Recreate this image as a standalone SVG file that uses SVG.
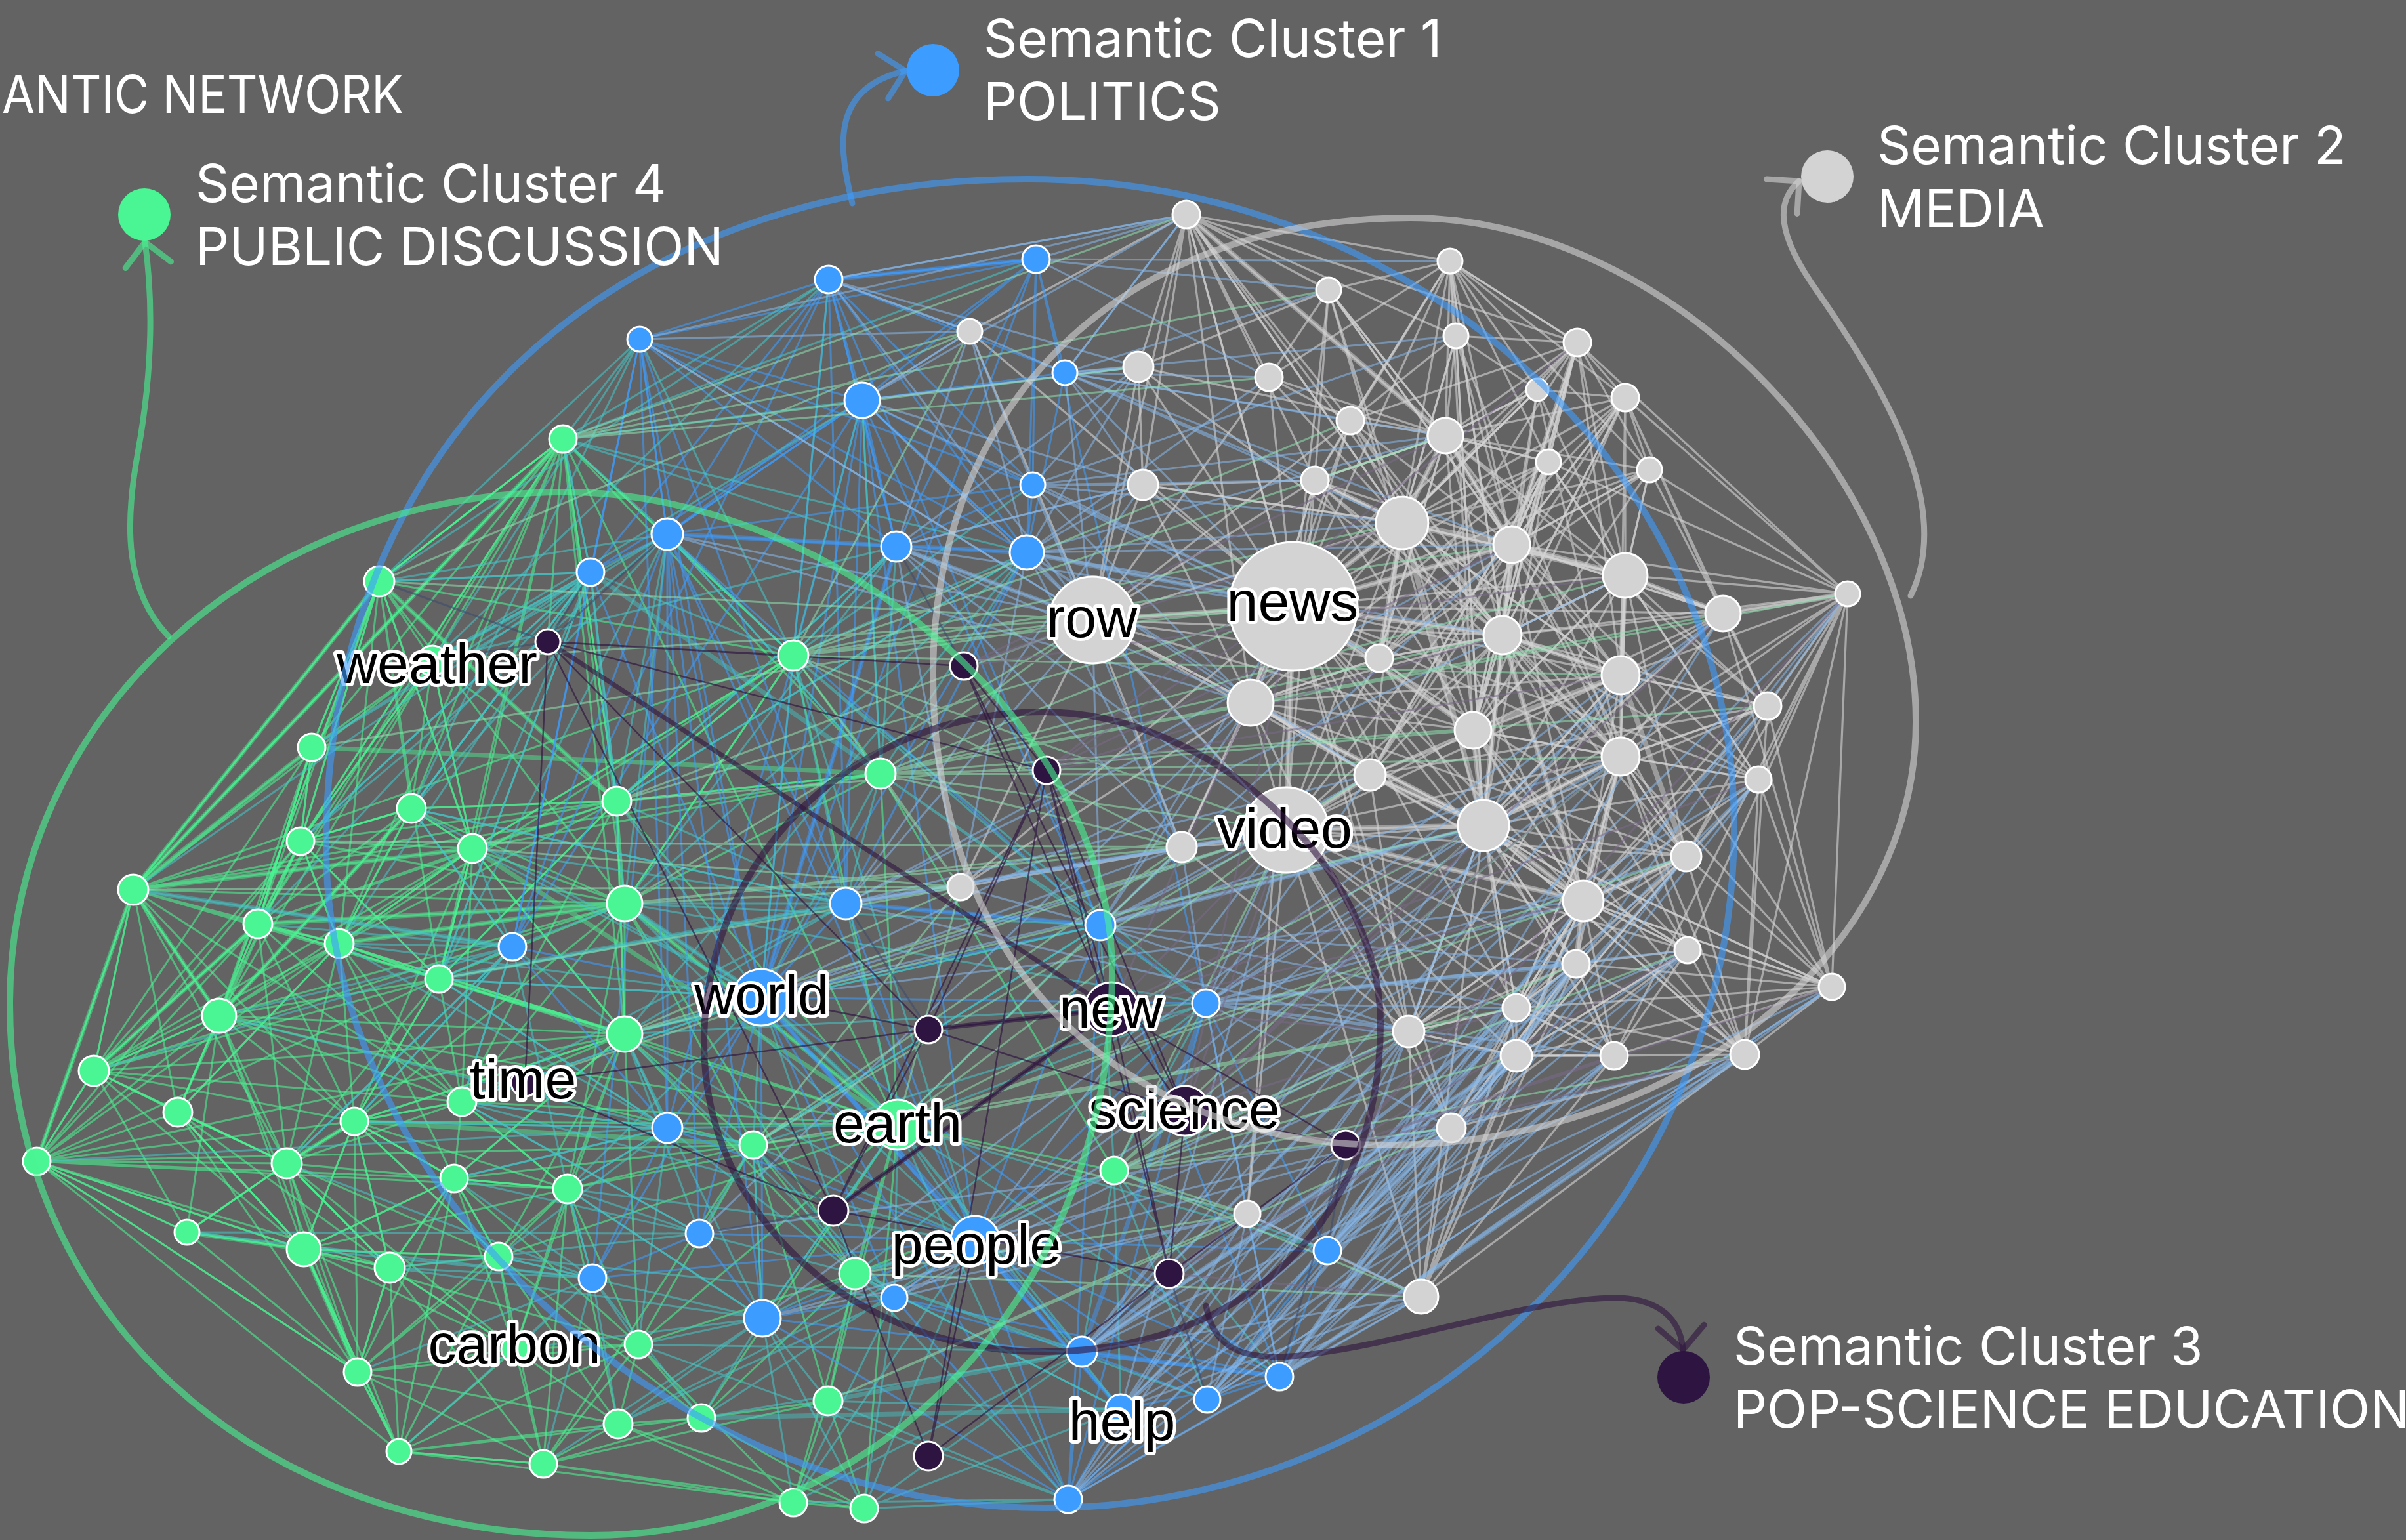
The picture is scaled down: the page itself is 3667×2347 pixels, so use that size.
<svg xmlns="http://www.w3.org/2000/svg" width="3667" height="2347" viewBox="0 0 3667 2347">
<style>
.e{fill:none;stroke-linecap:round;stroke-linejoin:round}
.eg{stroke:#d3d3d3;stroke-opacity:.62;stroke-width:3.2}
.egT{stroke:#d3d3d3;stroke-opacity:.5;stroke-width:8}
.en{stroke:#4af593;stroke-opacity:.58;stroke-width:3}
.enT{stroke:#4af593;stroke-opacity:.45;stroke-width:7}
.eb{stroke:#3d9cff;stroke-opacity:.58;stroke-width:3}
.ebT{stroke:#3d9cff;stroke-opacity:.45;stroke-width:7}
.et{stroke:#44c8c9;stroke-opacity:.56;stroke-width:3}
.etT{stroke:#44c8c9;stroke-opacity:.45;stroke-width:7}
.es{stroke:#88b8e9;stroke-opacity:.56;stroke-width:3}
.esT{stroke:#88b8e9;stroke-opacity:.45;stroke-width:7}
.ev{stroke:#8fe4b3;stroke-opacity:.55;stroke-width:3}
.ep{stroke:#2e1440;stroke-opacity:.65;stroke-width:2.5}
.epT{stroke:#2e1440;stroke-opacity:.6;stroke-width:7}
.eq{stroke:#7a6a8a;stroke-opacity:.55;stroke-width:3}
.ew{stroke:#3a4a70;stroke-opacity:.55;stroke-width:3}
.nd circle{stroke:#fff;stroke-width:3}
.c1{fill:#3d9cff}.c2{fill:#d3d3d3}.c3{fill:#2e1440}.c4{fill:#4af593}
.hull{fill:none;stroke-width:10;stroke-opacity:.6}
.h1{stroke:#3d9cff}.h2{stroke:#d3d3d3}.h3{stroke:#2e1440}.h4{stroke:#4af593}
.arr{fill:none;stroke-width:9;stroke-opacity:.6;stroke-linecap:round}
.lbl{font-family:"Liberation Sans",Arial,sans-serif;font-size:86px;fill:#000;stroke:#fff;stroke-width:10px;paint-order:stroke;stroke-linejoin:round;text-anchor:middle}
.leg{font-family:Inter,"Noto Sans",sans-serif;font-size:80px;fill:#fff}
</style>
<defs>
<marker id="m1" markerUnits="userSpaceOnUse" viewBox="0 0 70 80" markerWidth="70" markerHeight="80" refX="55" refY="40" orient="auto"><path d="M20,5 L55,40 L20,75" fill="none" stroke="#3d9cff" stroke-opacity=".6" stroke-width="9" stroke-linecap="round" stroke-linejoin="round"/></marker>
<marker id="m2" markerUnits="userSpaceOnUse" viewBox="0 0 70 80" markerWidth="70" markerHeight="80" refX="55" refY="40" orient="auto"><path d="M20,5 L55,40 L20,75" fill="none" stroke="#d3d3d3" stroke-opacity=".6" stroke-width="9" stroke-linecap="round" stroke-linejoin="round"/></marker>
<marker id="m3" markerUnits="userSpaceOnUse" viewBox="0 0 70 80" markerWidth="70" markerHeight="80" refX="55" refY="40" orient="auto"><path d="M20,5 L55,40 L20,75" fill="none" stroke="#2e1440" stroke-opacity=".6" stroke-width="9" stroke-linecap="round" stroke-linejoin="round"/></marker>
<marker id="m4" markerUnits="userSpaceOnUse" viewBox="0 0 70 80" markerWidth="70" markerHeight="80" refX="55" refY="40" orient="auto"><path d="M20,5 L55,40 L20,75" fill="none" stroke="#4af593" stroke-opacity=".6" stroke-width="9" stroke-linecap="round" stroke-linejoin="round"/></marker>
</defs>
<rect width="3667" height="2347" fill="#636363"/>
<g id="connectors">
<path class="e eg" d="M2816,905L2477,606 2816,905 2514,716 2816,905 2477,877 2816,905 2626,935 2816,905 2470,1029 2816,905 2694,1076 2816,905 2470,1153 2816,905 2680,1188 2816,905 2570,1305 2816,905 2572,1448 2816,905 2792,1504 2816,905 2659,1607 2816,905 2360,704 2816,905 2404,522 2816,905 2290,968 2816,905 2304,830 2816,905 2413,1373 2816,905 2460,1609 2816,905 2261,1258"/>
<path class="e eg" d="M2792,1504L2694,1076 2792,1504 2680,1188 2792,1504 2570,1305 2792,1504 2572,1448 2792,1504 2460,1609 2792,1504 2659,1607 2792,1504 2470,1153 2792,1504 2470,1029 2792,1504 2413,1373 2792,1504 2402,1469 2792,1504 2311,1609 2792,1504 2311,1536 2792,1504 2261,1258 2792,1504 2626,935"/>
<path class="e eg" d="M1808,327L2025,442 1808,327 2210,398 1808,327 1735,559 1808,327 1934,575 1808,327 1478,505 1808,327 2058,641 1808,327 1742,739 1808,327 2004,732 1808,327 2219,512 1808,327 2203,664 1808,327 2137,797 1808,327 1971,924 1808,327 1665,945 1808,327 1906,1071 1808,327 2404,522"/>
<path class="e eg" d="M2210,398L2025,442 2210,398 2219,512 2210,398 2404,522 2210,398 2343,594 2210,398 2203,664 2210,398 2058,641 2210,398 2360,704 2210,398 2137,797 2210,398 2304,830 2210,398 1934,575 2210,398 2004,732 2210,398 1971,924 2210,398 2290,968 2210,398 2477,606 2210,398 2514,716"/>
<path class="e eg" d="M2404,522L2219,512 2404,522 2343,594 2404,522 2477,606 2404,522 2360,704 2404,522 2514,716 2404,522 2203,664 2404,522 2304,830 2404,522 2477,877 2404,522 2137,797 2404,522 2290,968 2404,522 2470,1029 2404,522 2058,641"/>
<path class="e eg" d="M2477,606L2343,594 2477,606 2360,704 2477,606 2514,716 2477,606 2477,877 2477,606 2626,935 2477,606 2470,1029 2477,606 2304,830 2477,606 2203,664 2477,606 2290,968 2477,606 2694,1076 2477,606 2137,797"/>
<path class="e eg" d="M2659,1607L2460,1609 2659,1607 2572,1448 2659,1607 2570,1305 2659,1607 2311,1609 2659,1607 2413,1373 2659,1607 2311,1536 2659,1607 2402,1469 2659,1607 2680,1188 2659,1607 2694,1076 2659,1607 2261,1258 2659,1607 2470,1153 2659,1607 2166,1976 2659,1607 2212,1719"/>
<path class="e eg" d="M2166,1976L2212,1719 2166,1976 2147,1572 2166,1976 2311,1609 2166,1976 2311,1536 2166,1976 1901,1850 2166,1976 2460,1609 2166,1976 2402,1469 2166,1976 2413,1373 2166,1976 2261,1258 2166,1976 1960,1265"/>
<path class="e eg" d="M1971,924L1808,327 1971,924 2025,442 1971,924 1934,575 1971,924 2058,641 1971,924 2004,732 1971,924 2137,797 1971,924 1742,739 1971,924 1735,559 1971,924 1665,945 1971,924 2102,1003 1971,924 1906,1071 1971,924 2245,1113 1971,924 2088,1181 1971,924 1960,1265 1971,924 2261,1258 1971,924 2290,968 1971,924 2304,830 1971,924 2203,664 1971,924 2360,704 1971,924 2477,877 1971,924 2470,1029 1971,924 2470,1153 1971,924 2413,1373 1971,924 2570,1305 1971,924 2402,1469 1971,924 2311,1536 1971,924 2147,1572 1971,924 2212,1719 1971,924 1901,1850 1971,924 1801,1291 1971,924 1464,1352 1971,924 1478,505 1971,924 2626,935 1971,924 2694,1076 1971,924 2680,1188 1971,924 2514,716 1971,924 2404,522"/>
<path class="e eg" d="M1960,1265L1665,945 1960,1265 1906,1071 1960,1265 2088,1181 1960,1265 1801,1291 1960,1265 2261,1258 1960,1265 2245,1113 1960,1265 2102,1003 1960,1265 2413,1373 1960,1265 2311,1536 1960,1265 2147,1572 1960,1265 2311,1609 1960,1265 2212,1719 1960,1265 2402,1469 1960,1265 2570,1305 1960,1265 2470,1153 1960,1265 2470,1029 1960,1265 2137,797 1960,1265 2004,732 1960,1265 1901,1850 1960,1265 1464,1352 1960,1265 2290,968 1960,1265 2304,830 1960,1265 2572,1448 1960,1265 2460,1609"/>
<path class="e eg" d="M1665,945L1478,505 1665,945 1735,559 1665,945 1742,739 1665,945 1934,575 1665,945 1906,1071 1665,945 1801,1291 1665,945 1464,1352 1665,945 2088,1181 1665,945 2102,1003 1665,945 2004,732 1665,945 2058,641 1665,945 2137,797 1665,945 2245,1113 1665,945 2261,1258 1665,945 2290,968"/>
<path class="e eg" d="M2137,797L2025,442 2137,797 1934,575 2137,797 2219,512 2137,797 2343,594 2137,797 2058,641 2137,797 2360,704 2137,797 2004,732 2137,797 2290,968 2137,797 2102,1003 2137,797 1906,1071 2137,797 2245,1113 2137,797 2088,1181 2137,797 2470,1029 2137,797 2477,877 2137,797 1742,739 2137,797 2413,1373 2137,797 2470,1153"/>
<path class="e eg" d="M2304,830L2203,664 2304,830 2360,704 2304,830 2343,594 2304,830 2219,512 2304,830 2514,716 2304,830 2477,606 2304,830 2290,968 2304,830 2470,1029 2304,830 2245,1113 2304,830 2470,1153 2304,830 2102,1003 2304,830 2004,732 2304,830 2058,641 2304,830 2626,935 2304,830 2261,1258 2304,830 2413,1373 2304,830 2570,1305"/>
<path class="e eg" d="M2477,877L2360,704 2477,877 2514,716 2477,877 2626,935 2477,877 2470,1029 2477,877 2290,968 2477,877 2694,1076 2477,877 2470,1153 2477,877 2203,664 2477,877 2245,1113 2477,877 2680,1188 2477,877 2570,1305 2477,877 2261,1258 2477,877 2343,594"/>
<path class="e eg" d="M2261,1258L2245,1113 2261,1258 2088,1181 2261,1258 2470,1153 2261,1258 2402,1469 2261,1258 2311,1536 2261,1258 2147,1572 2261,1258 2570,1305 2261,1258 2470,1029 2261,1258 2290,968 2261,1258 2102,1003 2261,1258 1906,1071 2261,1258 1801,1291 2261,1258 2311,1609 2261,1258 2460,1609 2261,1258 2572,1448"/>
<path class="e eg" d="M2413,1373L2570,1305 2413,1373 2572,1448 2413,1373 2402,1469 2413,1373 2311,1536 2413,1373 2311,1609 2413,1373 2460,1609 2413,1373 2470,1153 2413,1373 2680,1188 2413,1373 2470,1029 2413,1373 2245,1113 2413,1373 2088,1181 2413,1373 2147,1572 2413,1373 2212,1719"/>
<path class="e eg" d="M1906,1071L1742,739 1906,1071 2004,732 1906,1071 2058,641 1906,1071 2102,1003 1906,1071 2088,1181 1906,1071 1801,1291 1906,1071 2245,1113 1906,1071 2290,968 1906,1071 1464,1352 1906,1071 2147,1572 1906,1071 1665,945"/>
<path class="e eg" d="M2203,664L1934,575 2203,664 2219,512 2203,664 2343,594 2203,664 2058,641 2203,664 2360,704 2203,664 2004,732 2203,664 2025,442 2203,664 2290,968 2203,664 2102,1003 2203,664 2245,1113 2203,664 2470,1029"/>
<path class="e eg" d="M2290,968L2360,704 2290,968 2004,732 2290,968 2102,1003 2290,968 2470,1029 2290,968 2245,1113 2290,968 2470,1153 2290,968 2088,1181 2290,968 2626,935 2290,968 2694,1076 2290,968 2570,1305 2290,968 2413,1373"/>
<path class="e eg" d="M2470,1153L2470,1029 2470,1153 2694,1076 2470,1153 2680,1188 2470,1153 2570,1305 2470,1153 2572,1448 2470,1153 2402,1469 2470,1153 2245,1113 2470,1153 2626,935 2470,1153 2311,1536 2311,1609 2402,1469 2311,1536 2147,1572 2311,1609 2460,1609 2311,1609 2212,1719 2311,1609 2572,1448 2311,1609 2570,1305"/>
<path class="e eg" d="M2025,442L1934,575 2058,641 2219,512 2343,594 2203,664 2360,704 2304,830 2477,877 2470,1029 2626,935 2694,1076 2470,1153 2680,1188 2570,1305 2413,1373 2572,1448 2402,1469 2311,1536 2460,1609 2311,1609 2212,1719 2147,1572 2261,1258 2088,1181 2245,1113 2102,1003 2137,797 2004,732 1742,739 1735,559 2025,442 2203,664 2137,797 2290,968 2245,1113 2470,1153 2261,1258 2413,1373 2311,1536 2147,1572 2088,1181 1906,1071 2102,1003 2290,968 2470,1029 2261,1258 2572,1448 2460,1609 2402,1469 2261,1258 2304,830 2514,716 2477,877 2290,968 2360,704 2404,522 2210,398 2058,641 2004,732 1906,1071 1801,1291 2147,1572 2311,1609 2413,1373 2470,1153 2570,1305 2680,1188 2477,877 2626,935 2514,716 2626,935 2470,1029 2694,1076 2570,1305 2402,1469 2212,1719 2311,1536 2261,1258 2680,1188"/>
<path class="e eg" d="M1742,739L2137,797 2477,877 2245,1113 2626,935 2261,1258 2694,1076 2088,1181 2470,1029 2147,1572 2570,1305 1906,1071 2413,1373 2004,732 2470,1153 2058,641 2290,968 1735,559 2203,664 2102,1003 2514,716 2245,1113 2304,830 2088,1181 2360,704 2261,1258 2219,512 2137,797 2343,594 2290,968 2477,606 2245,1113 2404,522 2304,830 2025,442 2004,732 2203,664 2304,830 2360,704 2477,877 2470,1153 2311,1536 2570,1305 2311,1609 2572,1448 2212,1719 2402,1469 2147,1572 2413,1373 2311,1536 2460,1609 2402,1469"/>
<path class="e eg" d="M2626,935L2304,830 2680,1188 2290,968 2572,1448 2245,1113 2659,1607 2261,1258 2792,1504 2413,1373 2694,1076 2203,664 2514,716 2137,797 2470,1029 1906,1071 2360,704 2088,1181 2477,606 2102,1003 2404,522 2245,1113 2210,398 2290,968 1808,327 2137,797 2343,594 2470,1153 2219,512 2261,1258 2025,442 2304,830"/>
<path class="e egT" d="M1971,924L2137,797M1971,924L2304,830M1971,924L1960,1265M1960,1265L2261,1258M2137,797L2304,830M2304,830L2477,877M2261,1258L2413,1373M1665,945L1971,924M2137,797L2261,1258M1906,1071L2261,1258M2290,968L2470,1029M2477,877L2626,935M2203,664L2137,797M2413,1373L2570,1305M1971,924L2290,968M2004,732L2137,797M2245,1113L2470,1029M2470,1153L2413,1373M2088,1181L2261,1258M2626,935L2816,905M1808,327L2203,664M2137,797L2477,877M2304,830L2261,1258M1971,924L2245,1113M2290,968L2413,1373M2203,664L2304,830M2470,1029L2570,1305M1960,1265L2413,1373M2404,522L2304,830M2137,797L2102,1003M2261,1258L2470,1153M2290,968L2304,830M1906,1071L1971,924M2477,877L2470,1029M2245,1113L2261,1258M2413,1373L2402,1469M1960,1265L2088,1181"/>
<path class="e en" d="M203,1356L578,886 203,1356 475,1139 203,1356 458,1282 203,1356 393,1408 203,1356 517,1438 203,1356 334,1548 203,1356 143,1632 203,1356 271,1695 203,1356 56,1770 203,1356 627,1232 203,1356 659,1007 203,1356 669,1492 203,1356 540,1709 203,1356 952,1377 203,1356 940,1221 203,1356 720,1293 203,1356 1209,999 203,1356 952,1576 203,1356 858,669 203,1356 437,1773 203,1356 704,1679 203,1356 1342,1179"/>
<path class="e en" d="M56,1770L203,1356 56,1770 334,1548 56,1770 143,1632 56,1770 271,1695 56,1770 437,1773 56,1770 285,1878 56,1770 463,1904 56,1770 393,1408 56,1770 458,1282 56,1770 540,1709 56,1770 692,1796 56,1770 545,2091 56,1770 594,1932 56,1770 608,2212 56,1770 517,1438 56,1770 669,1492 56,1770 952,1576 56,1770 865,1812 56,1770 1148,1745"/>
<path class="e en" d="M143,1632L203,1356 143,1632 334,1548 143,1632 393,1408 143,1632 56,1770 143,1632 271,1695 143,1632 458,1282 143,1632 475,1139 143,1632 517,1438 143,1632 540,1709 143,1632 437,1773 143,1632 463,1904 143,1632 669,1492 143,1632 720,1293 143,1632 952,1377 143,1632 704,1679 143,1632 952,1576"/>
<path class="e en" d="M334,1548L203,1356 334,1548 393,1408 334,1548 458,1282 334,1548 475,1139 334,1548 627,1232 334,1548 517,1438 334,1548 669,1492 334,1548 271,1695 334,1548 143,1632 334,1548 437,1773 334,1548 540,1709 334,1548 463,1904 334,1548 285,1878 334,1548 704,1679 334,1548 952,1377 334,1548 952,1576 334,1548 1148,1745 334,1548 659,1007 334,1548 578,886 334,1548 720,1293 334,1548 1368,1714"/>
<path class="e en" d="M858,669L578,886 858,669 659,1007 858,669 475,1139 858,669 627,1232 858,669 458,1282 858,669 940,1221 858,669 720,1293 858,669 952,1377 858,669 1209,999 858,669 1342,1179 858,669 393,1408 858,669 517,1438 858,669 669,1492 858,669 203,1356 858,669 952,1576 858,669 835,978 858,669 1368,1714"/>
<path class="e en" d="M578,886L659,1007 578,886 475,1139 578,886 627,1232 578,886 458,1282 578,886 203,1356 578,886 393,1408 578,886 940,1221 578,886 1209,999 578,886 720,1293 578,886 952,1377 578,886 858,669 578,886 517,1438 578,886 334,1548 578,886 669,1492"/>
<path class="e en" d="M545,2091L285,1878 545,2091 463,1904 545,2091 594,1932 545,2091 437,1773 545,2091 56,1770 545,2091 608,2212 545,2091 785,2056 545,2091 760,1915 545,2091 692,1796 545,2091 942,2170 545,2091 540,1709 545,2091 271,1695 545,2091 334,1548 545,2091 828,2231 545,2091 973,2049 545,2091 865,1812"/>
<path class="e en" d="M608,2212L545,2091 608,2212 828,2231 608,2212 942,2170 608,2212 785,2056 608,2212 594,1932 608,2212 463,1904 608,2212 760,1915 608,2212 1209,2290 608,2212 973,2049 608,2212 1069,2161 608,2212 437,1773 608,2212 692,1796"/>
<path class="e en" d="M828,2231L608,2212 828,2231 942,2170 828,2231 1069,2161 828,2231 973,2049 828,2231 785,2056 828,2231 1209,2290 828,2231 1317,2299 828,2231 1262,2135 828,2231 760,1915 828,2231 865,1812 828,2231 594,1932 828,2231 1148,1745"/>
<path class="e en" d="M952,1377L940,1221 952,1377 720,1293 952,1377 627,1232 952,1377 669,1492 952,1377 517,1438 952,1377 952,1576 952,1377 704,1679 952,1377 1148,1745 952,1377 1368,1714 952,1377 1342,1179 952,1377 1209,999 952,1377 458,1282 952,1377 393,1408 952,1377 865,1812 952,1377 540,1709 952,1377 1303,1941"/>
<path class="e en" d="M952,1576L669,1492 952,1576 704,1679 952,1576 865,1812 952,1576 1148,1745 952,1576 1368,1714 952,1576 692,1796 952,1576 540,1709 952,1576 760,1915 952,1576 973,2049 952,1576 517,1438 952,1576 940,1221 952,1576 720,1293 952,1576 1303,1941 952,1576 785,2056"/>
<path class="e en" d="M1368,1714L1148,1745 1368,1714 1303,1941 1368,1714 1342,1179 1368,1714 1209,999 1368,1714 940,1221 1368,1714 865,1812 1368,1714 704,1679 1368,1714 1262,2135 1368,1714 1209,2290 1368,1714 1317,2299 1368,1714 1698,1784 1368,1714 973,2049 1368,1714 1069,2161 1368,1714 760,1915 1368,1714 669,1492 1368,1714 540,1709"/>
<path class="e en" d="M393,1408L458,1282 393,1408 517,1438 393,1408 475,1139 393,1408 627,1232 393,1408 720,1293 393,1408 669,1492 393,1408 271,1695 393,1408 540,1709 393,1408 437,1773 393,1408 704,1679 393,1408 659,1007 393,1408 940,1221"/>
<path class="e en" d="M517,1438L458,1282 517,1438 627,1232 517,1438 720,1293 517,1438 669,1492 517,1438 540,1709 517,1438 704,1679 517,1438 437,1773 517,1438 692,1796 517,1438 271,1695 517,1438 940,1221 517,1438 952,1576 517,1438 1209,999"/>
<path class="e en" d="M458,1282L475,1139 458,1282 627,1232 458,1282 659,1007 458,1282 720,1293 458,1282 669,1492 458,1282 940,1221 458,1282 578,886 458,1282 858,669 458,1282 271,1695"/>
<path class="e en" d="M463,1904L285,1878 463,1904 437,1773 463,1904 594,1932 463,1904 692,1796 463,1904 540,1709 463,1904 760,1915 463,1904 785,2056 463,1904 271,1695 463,1904 865,1812 463,1904 973,2049 463,1904 608,2212"/>
<path class="e en" d="M437,1773L271,1695 437,1773 540,1709 437,1773 692,1796 437,1773 594,1932 437,1773 285,1878 437,1773 669,1492 437,1773 704,1679 437,1773 865,1812 437,1773 760,1915 437,1773 785,2056"/>
<path class="e en" d="M540,1709L704,1679 540,1709 692,1796 540,1709 669,1492 540,1709 594,1932 540,1709 760,1915 540,1709 865,1812 540,1709 720,1293 540,1709 952,1576"/>
<path class="e en" d="M940,1221L1209,999 940,1221 1342,1179 940,1221 720,1293 940,1221 627,1232 940,1221 952,1576 940,1221 659,1007 940,1221 858,669 940,1221 669,1492 940,1221 704,1679"/>
<path class="e en" d="M720,1293L627,1232 720,1293 659,1007 720,1293 578,886 720,1293 669,1492 720,1293 704,1679 720,1293 1209,999 720,1293 1342,1179 720,1293 952,1576"/>
<path class="e en" d="M692,1796L704,1679 692,1796 865,1812 692,1796 760,1915 692,1796 594,1932 692,1796 785,2056 692,1796 952,1576 692,1796 1148,1745 692,1796 973,2049"/>
<path class="e en" d="M475,1139L458,1282 627,1232 720,1293 669,1492 517,1438 393,1408 458,1282 659,1007 627,1232 940,1221 1209,999 1342,1179 940,1221 669,1492 540,1709 437,1773 285,1878 463,1904 594,1932 760,1915 692,1796 540,1709 704,1679 865,1812 760,1915 785,2056 942,2170 1069,2161 1262,2135 1303,1941 1148,1745 973,2049 785,2056 594,1932 437,1773 271,1695 143,1632 393,1408 475,1139 578,886 858,669 1209,999 720,1293 517,1438 271,1695 463,1904 692,1796 865,1812 1148,1745 1262,2135 1209,2290 1317,2299 1262,2135 1069,2161 942,2170 973,2049 1148,1745 1303,1941 1698,1784 1342,1179 1209,999 952,1377"/>
<path class="e en" d="M285,1878L437,1773 594,1932 545,2091 463,1904 540,1709 692,1796 594,1932 785,2056 865,1812 942,2170 760,1915 1069,2161 973,2049 1209,2290 942,2170 1317,2299 1069,2161 1303,1941 973,2049 865,1812 704,1679 669,1492 720,1293 659,1007 475,1139 393,1408 669,1492 458,1282 517,1438 627,1232 334,1548 271,1695 437,1773 143,1632 285,1878 56,1770 463,1904 271,1695 594,1932 540,1709 760,1915 463,1904"/>
<path class="e enT" d="M203,1356L578,886M203,1356L475,1139M56,1770L203,1356M334,1548L203,1356M143,1632L393,1408M463,1904L545,2091M858,669L203,1356M952,1377L1368,1714M669,1492L952,1576M334,1548L627,1232M540,1709L1148,1745M285,1878L463,1904M393,1408L952,1377M475,1139L1342,1179M578,886L940,1221M720,1293L1368,1714M517,1438L952,1377M437,1773L540,1709M203,1356L720,1293"/>
<path class="e eb" d="M1263,426L1579,395 1263,426 975,517 1263,426 1314,610 1263,426 1623,568 1263,426 1574,739 1263,426 1017,814 1263,426 1366,833 1263,426 1565,842 1263,426 900,872 1263,426 1289,1377 1263,426 1160,1520 1263,426 781,1443 1263,426 1677,1410"/>
<path class="e eb" d="M1579,395L1623,568 1579,395 1314,610 1579,395 1574,739 1579,395 1366,833 1579,395 1565,842 1579,395 975,517 1579,395 1017,814 1579,395 1160,1520 1579,395 1838,1529"/>
<path class="e eb" d="M975,517L1314,610 975,517 1017,814 975,517 900,872 975,517 1366,833 975,517 1565,842 975,517 1574,739 975,517 1289,1377 975,517 781,1443 975,517 1160,1520 975,517 1017,1719"/>
<path class="e eb" d="M1314,610L1623,568 1314,610 1574,739 1314,610 1017,814 1314,610 1366,833 1314,610 1565,842 1314,610 900,872 1314,610 1289,1377 1314,610 1160,1520 1314,610 1677,1410 1314,610 781,1443 1314,610 1486,1890 1314,610 1017,1719"/>
<path class="e eb" d="M1017,814L900,872 1017,814 1366,833 1017,814 1565,842 1017,814 1289,1377 1017,814 781,1443 1017,814 1160,1520 1017,814 1017,1719 1017,814 1066,1880 1017,814 903,1948 1017,814 1162,2009 1017,814 1486,1890 1017,814 1677,1410 1017,814 1574,739"/>
<path class="e eb" d="M1160,1520L1289,1377 1160,1520 781,1443 1160,1520 1017,1719 1160,1520 1066,1880 1160,1520 903,1948 1160,1520 1162,2009 1160,1520 1363,1978 1160,1520 1486,1890 1160,1520 1649,2060 1160,1520 1677,1410 1160,1520 1838,1529 1160,1520 1565,842 1160,1520 1366,833 1160,1520 900,872 1160,1520 1708,2148 1160,1520 1628,2285 1160,1520 1950,2098"/>
<path class="e eb" d="M1486,1890L1363,1978 1486,1890 1162,2009 1486,1890 1649,2060 1486,1890 1708,2148 1486,1890 1840,2133 1486,1890 1950,2098 1486,1890 2023,1906 1486,1890 1628,2285 1486,1890 1838,1529 1486,1890 1677,1410 1486,1890 1289,1377 1486,1890 1066,1880 1486,1890 1017,1719 1486,1890 903,1948"/>
<path class="e eb" d="M1628,2285L1649,2060 1628,2285 1708,2148 1628,2285 1840,2133 1628,2285 1363,1978 1628,2285 1162,2009 1628,2285 1950,2098 1628,2285 2023,1906 1628,2285 1838,1529 1628,2285 1677,1410"/>
<path class="e eb" d="M1950,2098L1649,2060 1950,2098 1840,2133 1950,2098 1708,2148 1950,2098 2023,1906 1950,2098 1838,1529 1950,2098 1677,1410 1950,2098 1363,1978 1950,2098 1162,2009"/>
<path class="e eb" d="M1579,395L1263,426 1366,833 1574,739 1565,842 1289,1377 1677,1410 1838,1529 2023,1906 1840,2133 1649,2060 1363,1978 1162,2009 1066,1880 903,1948 1017,1719 781,1443 900,872 975,517 1017,814 1314,610 1565,842 1623,568"/>
<path class="e ebT" d="M1649,2060L1950,2098M1160,1520L1486,1890M1017,814L1565,842M1263,426L1579,395M1289,1377L1677,1410M1366,833L1160,1520M1649,2060L1838,1529M1708,2148L1486,1890"/>
<path class="e et" d="M900,872L578,886 900,872 659,1007 900,872 475,1139 900,872 627,1232 900,872 458,1282 900,872 940,1221 900,872 720,1293 900,872 952,1377 900,872 203,1356 900,872 393,1408 900,872 517,1438 900,872 669,1492 900,872 858,669 900,872 1209,999"/>
<path class="e et" d="M781,1443L669,1492 781,1443 517,1438 781,1443 393,1408 781,1443 334,1548 781,1443 143,1632 781,1443 203,1356 781,1443 540,1709 781,1443 704,1679 781,1443 952,1576 781,1443 952,1377 781,1443 720,1293 781,1443 627,1232 781,1443 437,1773 781,1443 865,1812"/>
<path class="e et" d="M1017,1719L1148,1745 1017,1719 865,1812 1017,1719 952,1576 1017,1719 704,1679 1017,1719 692,1796 1017,1719 760,1915 1017,1719 973,2049 1017,1719 540,1709 1017,1719 1303,1941 1017,1719 1368,1714 1017,1719 334,1548 1017,1719 56,1770"/>
<path class="e et" d="M903,1948L760,1915 903,1948 785,2056 903,1948 942,2170 903,1948 973,2049 903,1948 865,1812 903,1948 594,1932 903,1948 463,1904 903,1948 545,2091 903,1948 828,2231 903,1948 608,2212 903,1948 1069,2161 903,1948 692,1796"/>
<path class="e et" d="M1162,2009L1262,2135 1162,2009 1069,2161 1162,2009 973,2049 1162,2009 942,2170 1162,2009 1303,1941 1162,2009 1209,2290 1162,2009 1317,2299 1162,2009 1148,1745 1162,2009 865,1812 1162,2009 785,2056 1162,2009 1368,1714 1162,2009 828,2231"/>
<path class="e et" d="M1209,999L1263,426 1209,999 1314,610 1209,999 975,517 1209,999 1017,814 1209,999 1366,833 1209,999 1565,842 1209,999 1574,739 1209,999 1289,1377 1209,999 1160,1520 1209,999 1677,1410 1209,999 1838,1529 1209,999 1486,1890"/>
<path class="e et" d="M1342,1179L1366,833 1342,1179 1565,842 1342,1179 1289,1377 1342,1179 1160,1520 1342,1179 1677,1410 1342,1179 1017,814 1342,1179 1314,610 1342,1179 1838,1529"/>
<path class="e et" d="M1368,1714L1486,1890 1368,1714 1363,1978 1368,1714 1160,1520 1368,1714 1289,1377 1368,1714 1677,1410 1368,1714 1649,2060 1368,1714 1708,2148 1368,1714 1838,1529 1368,1714 1950,2098 1368,1714 2023,1906 1368,1714 1162,2009 1368,1714 1628,2285"/>
<path class="e et" d="M1303,1941L1486,1890 1303,1941 1363,1978 1303,1941 1649,2060 1303,1941 1708,2148 1303,1941 1628,2285 1303,1941 1840,2133 1303,1941 1160,1520 1303,1941 1066,1880"/>
<path class="e et" d="M1698,1784L1838,1529 1698,1784 1677,1410 1698,1784 1486,1890 1698,1784 1649,2060 1698,1784 2023,1906 1698,1784 1950,2098 1698,1784 1840,2133 1698,1784 1708,2148"/>
<path class="e et" d="M858,669L1263,426 858,669 975,517 858,669 1314,610 858,669 1017,814 858,669 900,872 858,669 1579,395 858,669 1366,833 858,669 1565,842"/>
<path class="e et" d="M1317,2299L1628,2285 1317,2299 1649,2060 1317,2299 1708,2148 1317,2299 1363,1978 1317,2299 1486,1890M1209,2290L1628,2285 1209,2290 1363,1978 1209,2290 1486,1890 1209,2290 1649,2060"/>
<path class="e et" d="M952,1377L1289,1377 952,1377 1160,1520 952,1377 1677,1410 952,1377 1565,842 952,1377 1366,833 952,1377 1017,814 952,1377 1838,1529 952,1377 1486,1890"/>
<path class="e et" d="M952,1576L1160,1520 952,1576 1289,1377 952,1576 1017,1719 952,1576 1066,1880 952,1576 1486,1890 952,1576 1363,1978 952,1576 1162,2009 952,1576 1677,1410 952,1576 1838,1529"/>
<path class="e et" d="M940,1221L1017,814 940,1221 900,872 940,1221 1366,833 940,1221 1289,1377 940,1221 1160,1520 940,1221 1565,842 M704,1679L1160,1520 704,1679 1017,1719 704,1679 781,1443 704,1679 1066,1880 704,1679 1486,1890 704,1679 1289,1377"/>
<path class="e et" d="M669,1492L781,1443 669,1492 1160,1520 669,1492 1289,1377 669,1492 1017,1719 669,1492 1017,814 669,1492 900,872 M627,1232L781,1443 627,1232 900,872 627,1232 1017,814 627,1232 975,517 627,1232 1289,1377 627,1232 1160,1520"/>
<path class="e et" d="M659,1007L975,517 659,1007 900,872 659,1007 1017,814 659,1007 1263,426 659,1007 1314,610 659,1007 1366,833 M865,1812L1017,1719 865,1812 1066,1880 865,1812 903,1948 865,1812 1162,2009 865,1812 1160,1520 865,1812 1486,1890"/>
<path class="e et" d="M1148,1745L1160,1520 1148,1745 1066,1880 1148,1745 1162,2009 1148,1745 1486,1890 1148,1745 1017,1719 1148,1745 1363,1978 1148,1745 1677,1410 M578,886L975,517 578,886 900,872 578,886 1017,814 578,886 1263,426"/>
<path class="e et" d="M475,1139L1017,814 458,1282 900,872 627,1232 1289,1377 720,1293 1160,1520 517,1438 1017,1719 669,1492 1160,1520 704,1679 1066,1880 692,1796 1017,1719 540,1709 781,1443 437,1773 903,1948 285,1878 1066,1880 594,1932 1162,2009 760,1915 1363,1978 942,2170 1486,1890 1069,2161 1649,2060 973,2049 1628,2285 1262,2135 1708,2148 1303,1941 1838,1529 1148,1745 1677,1410 952,1576 1565,842 940,1221 1366,833 1209,999 1017,814 1342,1179 1314,610"/>
<path class="e etT" d="M203,1356L781,1443M1160,1520L1368,1714M1486,1890L1303,1941M1649,2060L1262,2135M900,872L1342,1179M1708,2148L1069,2161M952,1377L1160,1520M669,1492L1289,1377"/>
<path class="e es" d="M1623,568L1735,559 1623,568 1808,327 1623,568 1934,575 1623,568 1478,505 1623,568 1742,739 1623,568 1665,945 1623,568 1971,924 1623,568 2004,732 1623,568 2058,641 1623,568 2137,797 1623,568 2025,442"/>
<path class="e es" d="M1574,739L1742,739 1574,739 1665,945 1574,739 1735,559 1574,739 1971,924 1574,739 1906,1071 1574,739 2137,797 1574,739 2004,732 1574,739 1478,505 1574,739 2102,1003 1574,739 1801,1291"/>
<path class="e es" d="M1565,842L1665,945 1565,842 1742,739 1565,842 1971,924 1565,842 1906,1071 1565,842 1801,1291 1565,842 1960,1265 1565,842 2088,1181 1565,842 2137,797 1565,842 1464,1352 1565,842 2290,968 1565,842 1735,559 1565,842 1478,505 1565,842 1934,575"/>
<path class="e es" d="M1366,833L1665,945 1366,833 1478,505 1366,833 1742,739 1366,833 1971,924 1366,833 1906,1071 1366,833 1464,1352 1366,833 1801,1291 1366,833 1960,1265 M1314,610L1478,505 1314,610 1735,559 1314,610 1742,739 1314,610 1665,945 1314,610 1808,327 1314,610 1971,924"/>
<path class="e es" d="M1289,1377L1464,1352 1289,1377 1801,1291 1289,1377 1960,1265 1289,1377 1665,945 1289,1377 1906,1071 1289,1377 2088,1181 1289,1377 2147,1572 M1263,426L1478,505 1263,426 1808,327 1263,426 1735,559 1263,426 1665,945 M975,517L1478,505 975,517 1665,945"/>
<path class="e es" d="M1677,1410L1801,1291 1677,1410 1960,1265 1677,1410 2088,1181 1677,1410 2147,1572 1677,1410 1464,1352 1677,1410 2261,1258 1677,1410 1906,1071 1677,1410 2311,1536 1677,1410 2402,1469 1677,1410 1665,945 1677,1410 1971,924"/>
<path class="e es" d="M1838,1529L1960,1265 1838,1529 2147,1572 1838,1529 2212,1719 1838,1529 2311,1609 1838,1529 2311,1536 1838,1529 2402,1469 1838,1529 2413,1373 1838,1529 2261,1258 1838,1529 1801,1291 1838,1529 1901,1850 1838,1529 2088,1181 1838,1529 2460,1609 1838,1529 2572,1448 1838,1529 2570,1305"/>
<path class="e es" d="M2023,1906L1901,1850 2023,1906 2166,1976 2023,1906 2212,1719 2023,1906 2147,1572 2023,1906 2311,1609 2023,1906 2311,1536 2023,1906 2460,1609 2023,1906 2402,1469 2023,1906 2659,1607 2023,1906 2572,1448 2023,1906 2413,1373 2023,1906 2261,1258"/>
<path class="e es" d="M1950,2098L2166,1976 1950,2098 1901,1850 1950,2098 2212,1719 1950,2098 2311,1609 1950,2098 2460,1609 1950,2098 2659,1607 1950,2098 2402,1469 1950,2098 2572,1448 1950,2098 2792,1504"/>
<path class="e es" d="M1840,2133L2166,1976 1840,2133 1901,1850 1840,2133 2212,1719 1840,2133 2311,1609 1840,2133 2460,1609 1840,2133 2402,1469 1840,2133 2147,1572 1840,2133 2413,1373"/>
<path class="e es" d="M1649,2060L1901,1850 1649,2060 2166,1976 1649,2060 2212,1719 1649,2060 2147,1572 1649,2060 2311,1609 1649,2060 2402,1469 1649,2060 2311,1536 1649,2060 2261,1258 1649,2060 2470,1153 1649,2060 2470,1029"/>
<path class="e es" d="M1708,2148L1901,1850 1708,2148 2166,1976 1708,2148 2147,1572 1708,2148 2212,1719 1708,2148 2402,1469 1708,2148 2311,1536 1708,2148 1960,1265M1628,2285L1901,1850 1628,2285 2147,1572 1628,2285 2212,1719 1628,2285 2166,1976"/>
<path class="e es" d="M1579,395L1808,327 1263,426 1478,505 1314,610 1735,559 1366,833 1742,739 1289,1377 1801,1291 1160,1520 1960,1265 1486,1890 2147,1572 1363,1978 1901,1850 1162,2009 2212,1719 1066,1880 1906,1071 1017,814 1665,945 975,517 1808,327 1623,568 2219,512 1574,739 2203,664 1565,842 2304,830 1677,1410 2470,1153 1838,1529 2626,935 2023,1906 2680,1188 1950,2098 2570,1305 1840,2133 2792,1504"/>
<path class="e es" d="M2816,905L2023,1906M2816,905L1950,2098M2816,905L1649,2060M2792,1504L1840,2133M2792,1504L1649,2060M2694,1076L1628,2285M2680,1188L1708,2148M2680,1188L1486,1890M2659,1607L1708,2148M2659,1607L1486,1890M2572,1448L1649,2060M2460,1609L1628,2285M2572,1448L1363,1978M2626,935L1486,1890M2470,1153L1363,1978M2470,1029L1162,2009M2477,877L1160,1520M2413,1373L1160,1520M2261,1258L1160,1520M2304,830L1289,1377M1579,395L2210,398M1579,395L2025,442M1579,395L1934,575M1623,568L2203,664M1623,568L2304,830"/>
<path class="e esT" d="M1838,1529L2402,1469M1649,2060L2311,1609M1565,842L1971,924M1677,1410L2261,1258M1950,2098L2659,1607M1366,833L1665,945M1289,1377L1960,1265"/>
<path class="e ev" d="M858,669L1808,327M858,669L1478,505M858,669L1735,559M578,886L1478,505M578,886L1665,945M659,1007L1971,924M940,1221L1971,924M940,1221L1665,945M1209,999L1478,505M1209,999L1665,945M1209,999L1971,924M1209,999L2137,797M1342,1179L1665,945M1342,1179L1971,924M1342,1179L1906,1071M1342,1179L2290,968M1342,1179L2477,877M1342,1179L2626,935M952,1377L1464,1352M952,1377L1960,1265M1368,1714L1960,1265M1368,1714L2261,1258M1368,1714L2147,1572M1368,1714L1801,1291M1368,1714L2413,1373M1698,1784L1901,1850M1698,1784L2166,1976M1698,1784L2212,1719M1698,1784L2147,1572M1698,1784L2311,1609M1698,1784L1960,1265M1698,1784L2261,1258M1698,1784L2470,1153M1698,1784L2402,1469M1698,1784L2659,1607M1698,1784L2572,1448M1148,1745L1801,1291M1303,1941L1901,1850M1303,1941L2166,1976M1262,2135L1901,1850M1262,2135L2212,1719M720,1293L1464,1352M669,1492L1464,1352M475,1139L1665,945M203,1356L1464,1352M458,1282L1801,1291M704,1679L1960,1265M1209,999L2304,830M1209,999L2470,1029M1342,1179L2694,1076M1342,1179L2470,1153M1342,1179L2816,905M952,1576L2261,1258M940,1221L2245,1113M1148,1745L2088,1181M1368,1714L2311,1536M1368,1714L2570,1305M1209,999L2203,664M1209,999L2058,641M858,669L2025,442M858,669L1934,575M1209,999L1464,1352M1209,999L1801,1291M1209,999L1960,1265M1342,1179L1464,1352M1342,1179L1801,1291M1342,1179L1960,1265M1342,1179L2088,1181M952,1377L1665,945M952,1377L1801,1291M952,1576L1464,1352M952,1576L1960,1265M1148,1745L1464,1352M1148,1745L2147,1572M1368,1714L1464,1352M1368,1714L1901,1850"/>
<path class="e eq" d="M1694,1538L1971,924M1694,1538L1960,1265M1694,1538L2261,1258M1694,1538L2413,1373M1694,1538L2147,1572M1806,1693L1960,1265M1806,1693L2261,1258M1806,1693L2470,1153M1806,1693L2311,1536M1806,1693L1971,924M2051,1745L2413,1373M2051,1745L2572,1448M2051,1745L2659,1607M2051,1745L2792,1504M2051,1745L2460,1609M1595,1174L1971,924M1595,1174L2290,968M1595,1174L2470,1029M1469,1015L1665,945M1469,1015L2137,797M1469,1015L2477,877M1782,1941L2166,1976M1782,1941L2212,1719M1782,1941L1901,1850M1595,1174L2304,830M1595,1174L2404,522M1469,1015L2203,664M1806,1693L2626,935M1694,1538L2680,1188M2051,1745L2816,905"/>
<path class="e ew" d="M835,978L1017,814M835,978L900,872M835,978L578,886M835,978L659,1007M1469,1015L1366,833M1415,1569L1289,1377M1270,1845L1066,1880M1270,1845L1148,1745M1782,1941L1649,2060M1782,1941L1840,2133M2051,1745L2023,1906M2051,1745L1950,2098"/>
<path class="e ep" d="M835,978L1469,1015M835,978L1595,1174M835,978L1415,1569M835,978L1270,1845M835,978L800,1650M835,978L1209,999M1469,1015L1595,1174M1469,1015L1694,1538M1469,1015L1806,1693M1595,1174L1694,1538M1595,1174L1415,1569M1595,1174L1415,2219M1595,1174L1270,1845M1595,1174L1782,1941M1595,1174L1806,1693M1694,1538L1415,1569M1694,1538L1806,1693M1694,1538L2051,1745M1694,1538L1782,1941M1694,1538L1270,1845M1415,1569L1270,1845M1415,1569L800,1650M1415,1569L1806,1693M1415,1569L1160,1520M1806,1693L2051,1745M1806,1693L1782,1941M1270,1845L1415,2219M1270,1845L1782,1941M1782,1941L1415,2219M2051,1745L1782,1941M800,1650L1270,1845M1415,2219L1486,1890"/>
<path class="e epT" d="M835,978L1694,1538M1415,1569L1694,1538M1270,1845L1694,1538"/>
</g>
<g id="nodes">
<g id="media-1" class="nd"><circle class="c2" cx="1808" cy="327" r="21"/></g>
<g id="media-2" class="nd"><circle class="c2" cx="2025" cy="442" r="19"/></g>
<g id="media-3" class="nd"><circle class="c2" cx="2210" cy="398" r="19"/></g>
<g id="media-4" class="nd"><circle class="c2" cx="1478" cy="505" r="19"/></g>
<g id="media-5" class="nd"><circle class="c2" cx="1735" cy="559" r="23"/></g>
<g id="media-6" class="nd"><circle class="c2" cx="1934" cy="575" r="21"/></g>
<g id="media-7" class="nd"><circle class="c2" cx="2219" cy="512" r="19"/></g>
<g id="media-8" class="nd"><circle class="c2" cx="2404" cy="522" r="21"/></g>
<g id="media-9" class="nd"><circle class="c2" cx="2343" cy="594" r="17"/></g>
<g id="media-10" class="nd"><circle class="c2" cx="2477" cy="606" r="21"/></g>
<g id="media-11" class="nd"><circle class="c2" cx="2058" cy="641" r="21"/></g>
<g id="media-12" class="nd"><circle class="c2" cx="2203" cy="664" r="27"/></g>
<g id="media-13" class="nd"><circle class="c2" cx="2360" cy="704" r="19"/></g>
<g id="media-14" class="nd"><circle class="c2" cx="2514" cy="716" r="19"/></g>
<g id="media-15" class="nd"><circle class="c2" cx="1742" cy="739" r="23"/></g>
<g id="media-16" class="nd"><circle class="c2" cx="2004" cy="732" r="21"/></g>
<g id="media-17" class="nd"><circle class="c2" cx="2137" cy="797" r="40"/></g>
<g id="media-18" class="nd"><circle class="c2" cx="2304" cy="830" r="28"/></g>
<g id="media-19" class="nd"><circle class="c2" cx="2477" cy="877" r="34"/></g>
<g id="media-20" class="nd"><circle class="c2" cx="2816" cy="905" r="19"/></g>
<g id="media-21" class="nd"><circle class="c2" cx="2626" cy="935" r="27"/></g>
<g id="node-row" class="nd"><circle class="c2" cx="1665" cy="945" r="66"/></g>
<g id="node-news" class="nd"><circle class="c2" cx="1971" cy="924" r="98"/></g>
<g id="media-24" class="nd"><circle class="c2" cx="2290" cy="968" r="29"/></g>
<g id="media-25" class="nd"><circle class="c2" cx="2102" cy="1003" r="21"/></g>
<g id="media-26" class="nd"><circle class="c2" cx="2470" cy="1029" r="29"/></g>
<g id="media-27" class="nd"><circle class="c2" cx="1906" cy="1071" r="35"/></g>
<g id="media-28" class="nd"><circle class="c2" cx="2694" cy="1076" r="21"/></g>
<g id="media-29" class="nd"><circle class="c2" cx="2245" cy="1113" r="28"/></g>
<g id="media-30" class="nd"><circle class="c2" cx="2470" cy="1153" r="29"/></g>
<g id="media-31" class="nd"><circle class="c2" cx="2088" cy="1181" r="24"/></g>
<g id="media-32" class="nd"><circle class="c2" cx="2680" cy="1188" r="20"/></g>
<g id="media-33" class="nd"><circle class="c2" cx="2261" cy="1258" r="39"/></g>
<g id="node-video" class="nd"><circle class="c2" cx="1960" cy="1265" r="65"/></g>
<g id="media-35" class="nd"><circle class="c2" cx="1801" cy="1291" r="23"/></g>
<g id="media-36" class="nd"><circle class="c2" cx="2570" cy="1305" r="23"/></g>
<g id="media-37" class="nd"><circle class="c2" cx="1464" cy="1352" r="20"/></g>
<g id="media-38" class="nd"><circle class="c2" cx="2413" cy="1373" r="31"/></g>
<g id="media-39" class="nd"><circle class="c2" cx="2572" cy="1448" r="20"/></g>
<g id="media-40" class="nd"><circle class="c2" cx="2402" cy="1469" r="21"/></g>
<g id="media-41" class="nd"><circle class="c2" cx="2792" cy="1504" r="20"/></g>
<g id="media-42" class="nd"><circle class="c2" cx="2311" cy="1536" r="21"/></g>
<g id="media-43" class="nd"><circle class="c2" cx="2147" cy="1572" r="24"/></g>
<g id="media-44" class="nd"><circle class="c2" cx="2311" cy="1609" r="24"/></g>
<g id="media-45" class="nd"><circle class="c2" cx="2460" cy="1609" r="21"/></g>
<g id="media-46" class="nd"><circle class="c2" cx="2659" cy="1607" r="22"/></g>
<g id="media-47" class="nd"><circle class="c2" cx="2212" cy="1719" r="22"/></g>
<g id="media-48" class="nd"><circle class="c2" cx="1901" cy="1850" r="20"/></g>
<g id="media-49" class="nd"><circle class="c2" cx="2166" cy="1976" r="26"/></g>
<g id="politics-1" class="nd"><circle class="c1" cx="1579" cy="395" r="21"/></g>
<g id="politics-2" class="nd"><circle class="c1" cx="1263" cy="426" r="21"/></g>
<g id="politics-3" class="nd"><circle class="c1" cx="975" cy="517" r="19"/></g>
<g id="politics-4" class="nd"><circle class="c1" cx="1623" cy="568" r="19"/></g>
<g id="politics-5" class="nd"><circle class="c1" cx="1314" cy="610" r="27"/></g>
<g id="politics-6" class="nd"><circle class="c1" cx="1574" cy="739" r="19"/></g>
<g id="politics-7" class="nd"><circle class="c1" cx="1017" cy="814" r="24"/></g>
<g id="politics-8" class="nd"><circle class="c1" cx="1366" cy="833" r="23"/></g>
<g id="politics-9" class="nd"><circle class="c1" cx="1565" cy="842" r="26"/></g>
<g id="politics-10" class="nd"><circle class="c1" cx="900" cy="872" r="21"/></g>
<g id="politics-11" class="nd"><circle class="c1" cx="1289" cy="1377" r="24"/></g>
<g id="politics-12" class="nd"><circle class="c1" cx="781" cy="1443" r="21"/></g>
<g id="politics-13" class="nd"><circle class="c1" cx="1677" cy="1410" r="23"/></g>
<g id="node-world" class="nd"><circle class="c1" cx="1160" cy="1520" r="43"/></g>
<g id="politics-15" class="nd"><circle class="c1" cx="1838" cy="1529" r="21"/></g>
<g id="politics-16" class="nd"><circle class="c1" cx="1017" cy="1719" r="23"/></g>
<g id="politics-17" class="nd"><circle class="c1" cx="1066" cy="1880" r="21"/></g>
<g id="node-people" class="nd"><circle class="c1" cx="1486" cy="1890" r="37"/></g>
<g id="politics-19" class="nd"><circle class="c1" cx="2023" cy="1906" r="21"/></g>
<g id="politics-20" class="nd"><circle class="c1" cx="903" cy="1948" r="21"/></g>
<g id="politics-21" class="nd"><circle class="c1" cx="1363" cy="1978" r="20"/></g>
<g id="politics-22" class="nd"><circle class="c1" cx="1162" cy="2009" r="28"/></g>
<g id="politics-23" class="nd"><circle class="c1" cx="1649" cy="2060" r="23"/></g>
<g id="politics-24" class="nd"><circle class="c1" cx="1950" cy="2098" r="21"/></g>
<g id="politics-25" class="nd"><circle class="c1" cx="1840" cy="2133" r="20"/></g>
<g id="node-help" class="nd"><circle class="c1" cx="1708" cy="2148" r="23"/></g>
<g id="politics-27" class="nd"><circle class="c1" cx="1628" cy="2285" r="21"/></g>
<g id="popsci-1" class="nd"><circle class="c3" cx="835" cy="978" r="19"/></g>
<g id="popsci-2" class="nd"><circle class="c3" cx="1469" cy="1015" r="21"/></g>
<g id="popsci-3" class="nd"><circle class="c3" cx="1595" cy="1174" r="21"/></g>
<g id="node-new" class="nd"><circle class="c3" cx="1694" cy="1538" r="41"/></g>
<g id="popsci-5" class="nd"><circle class="c3" cx="1415" cy="1569" r="21"/></g>
<g id="node-science" class="nd"><circle class="c3" cx="1806" cy="1693" r="38"/></g>
<g id="popsci-7" class="nd"><circle class="c3" cx="2051" cy="1745" r="22"/></g>
<g id="popsci-8" class="nd"><circle class="c3" cx="1270" cy="1845" r="23"/></g>
<g id="popsci-9" class="nd"><circle class="c3" cx="1782" cy="1941" r="22"/></g>
<g id="popsci-10" class="nd"><circle class="c3" cx="1415" cy="2219" r="22"/></g>
<g id="popsci-11" class="nd"><circle class="c3" cx="800" cy="1650" r="21"/></g>
<g id="public-1" class="nd"><circle class="c4" cx="858" cy="669" r="21"/></g>
<g id="public-2" class="nd"><circle class="c4" cx="578" cy="886" r="23"/></g>
<g id="public-3" class="nd"><circle class="c4" cx="1209" cy="999" r="23"/></g>
<g id="node-weather" class="nd"><circle class="c4" cx="659" cy="1007" r="23"/></g>
<g id="public-5" class="nd"><circle class="c4" cx="475" cy="1139" r="21"/></g>
<g id="public-6" class="nd"><circle class="c4" cx="940" cy="1221" r="22"/></g>
<g id="public-7" class="nd"><circle class="c4" cx="1342" cy="1179" r="23"/></g>
<g id="public-8" class="nd"><circle class="c4" cx="627" cy="1232" r="22"/></g>
<g id="public-9" class="nd"><circle class="c4" cx="458" cy="1282" r="21"/></g>
<g id="public-10" class="nd"><circle class="c4" cx="720" cy="1293" r="22"/></g>
<g id="public-11" class="nd"><circle class="c4" cx="203" cy="1356" r="23"/></g>
<g id="public-12" class="nd"><circle class="c4" cx="952" cy="1377" r="27"/></g>
<g id="public-13" class="nd"><circle class="c4" cx="393" cy="1408" r="22"/></g>
<g id="public-14" class="nd"><circle class="c4" cx="517" cy="1438" r="22"/></g>
<g id="public-15" class="nd"><circle class="c4" cx="669" cy="1492" r="21"/></g>
<g id="public-16" class="nd"><circle class="c4" cx="334" cy="1548" r="26"/></g>
<g id="public-17" class="nd"><circle class="c4" cx="952" cy="1576" r="27"/></g>
<g id="public-18" class="nd"><circle class="c4" cx="143" cy="1632" r="23"/></g>
<g id="public-19" class="nd"><circle class="c4" cx="271" cy="1695" r="22"/></g>
<g id="public-20" class="nd"><circle class="c4" cx="540" cy="1709" r="21"/></g>
<g id="node-time" class="nd"><circle class="c4" cx="704" cy="1679" r="22"/></g>
<g id="node-earth" class="nd"><circle class="c4" cx="1368" cy="1714" r="38"/></g>
<g id="public-23" class="nd"><circle class="c4" cx="1148" cy="1745" r="21"/></g>
<g id="public-24" class="nd"><circle class="c4" cx="56" cy="1770" r="21"/></g>
<g id="public-25" class="nd"><circle class="c4" cx="437" cy="1773" r="23"/></g>
<g id="public-26" class="nd"><circle class="c4" cx="692" cy="1796" r="21"/></g>
<g id="public-27" class="nd"><circle class="c4" cx="865" cy="1812" r="22"/></g>
<g id="public-28" class="nd"><circle class="c4" cx="1698" cy="1784" r="21"/></g>
<g id="public-29" class="nd"><circle class="c4" cx="285" cy="1878" r="19"/></g>
<g id="public-30" class="nd"><circle class="c4" cx="463" cy="1904" r="26"/></g>
<g id="public-31" class="nd"><circle class="c4" cx="594" cy="1932" r="23"/></g>
<g id="public-32" class="nd"><circle class="c4" cx="760" cy="1915" r="21"/></g>
<g id="public-33" class="nd"><circle class="c4" cx="1303" cy="1941" r="24"/></g>
<g id="public-34" class="nd"><circle class="c4" cx="973" cy="2049" r="21"/></g>
<g id="node-carbon" class="nd"><circle class="c4" cx="785" cy="2056" r="21"/></g>
<g id="public-36" class="nd"><circle class="c4" cx="545" cy="2091" r="21"/></g>
<g id="public-37" class="nd"><circle class="c4" cx="942" cy="2170" r="22"/></g>
<g id="public-38" class="nd"><circle class="c4" cx="1069" cy="2161" r="21"/></g>
<g id="public-39" class="nd"><circle class="c4" cx="1262" cy="2135" r="22"/></g>
<g id="public-40" class="nd"><circle class="c4" cx="608" cy="2212" r="19"/></g>
<g id="public-41" class="nd"><circle class="c4" cx="828" cy="2231" r="21"/></g>
<g id="public-42" class="nd"><circle class="c4" cx="1209" cy="2290" r="21"/></g>
<g id="public-43" class="nd"><circle class="c4" cx="1317" cy="2299" r="21"/></g>
</g>
<g id="labels">
<text class="lbl" x="666" y="1041">weather</text>
<text class="lbl" x="797" y="1674">time</text>
<text class="lbl" x="784" y="2078">carbon</text>
<text class="lbl" x="1161" y="1546">world</text>
<text class="lbl" x="1368" y="1741">earth</text>
<text class="lbl" x="1488" y="1926">people</text>
<text class="lbl" x="1693" y="1566">new</text>
<text class="lbl" x="1805" y="1720">science</text>
<text class="lbl" x="1664" y="971">row</text>
<text class="lbl" x="1970" y="946">news</text>
<text class="lbl" x="1958" y="1292">video</text>
<text class="lbl" x="1710" y="2195">help</text>
</g>
<g id="hulls">
<path id="hull-politics" class="hull h1" d="M497,1290C497,680 925,273 1566,273C2158,273 2643,717 2643,1260C2643,1831 2171,2298 1593,2298C1023,2298 497,1814 497,1290Z"/>
<path id="hull-media" class="hull h2" d="M1422,1029C1422,611 1713,332 2150,332C2535,332 2920,716 2920,1100C2920,1455 2557,1745 2114,1745C1699,1745 1422,1459 1422,1029Z"/>
<path id="hull-popsci" class="hull h3" d="M1073,1590C1073,1307 1300,1085 1590,1085C1847,1085 2104,1322 2104,1560C2104,1860 1898,2060 1590,2060C1300,2060 1073,1853 1073,1590Z"/>
<path id="hull-public" class="hull h4" d="M15,1530C15,1093 387,750 860,750C1278,750 1695,1115 1695,1480C1695,1962 1345,2340 900,2340C387,2340 15,2000 15,1530Z"/>
</g>
<g id="legend-connectors">
<path class="arr h1" marker-end="url(#m1)" d="M1299,310C1280,230 1262,135 1380,108"/>
<path class="arr h2" marker-end="url(#m2)" d="M2912,908C2985,760 2850,560 2760,430C2700,340 2715,300 2742,276"/>
<path class="arr h3" marker-end="url(#m3)" d="M1838,1990C1850,2060 1900,2075 1990,2065C2150,2045 2350,1975 2470,1978C2540,1982 2562,2020 2565,2057"/>
<path class="arr h4" marker-end="url(#m4)" d="M257,970C190,900 190,800 210,690C230,580 235,470 221,369"/>
</g>
<g id="legend">
<text class="leg" x="3" y="172" textLength="612" lengthAdjust="spacingAndGlyphs">ANTIC NETWORK</text>
<g id="legend-politics"><circle class="c1" cx="1422" cy="107" r="40"/><text class="leg" x="1499" y="87">Semantic Cluster 1</text><text class="leg" x="1499" y="183">POLITICS</text></g>
<g id="legend-media"><circle class="c2" cx="2785" cy="269" r="40"/><text class="leg" x="2861" y="250">Semantic Cluster 2</text><text class="leg" x="2861" y="346">MEDIA</text></g>
<g id="legend-popsci"><circle class="c3" cx="2566" cy="2099" r="40"/><text class="leg" x="2642" y="2080">Semantic Cluster 3</text><text class="leg" x="2642" y="2176">POP-SCIENCE EDUCATION</text></g>
<g id="legend-public"><circle class="c4" cx="220" cy="327" r="40"/><text class="leg" x="298" y="308">Semantic Cluster 4</text><text class="leg" x="298" y="404">PUBLIC DISCUSSION</text></g>
</g>
</svg>
